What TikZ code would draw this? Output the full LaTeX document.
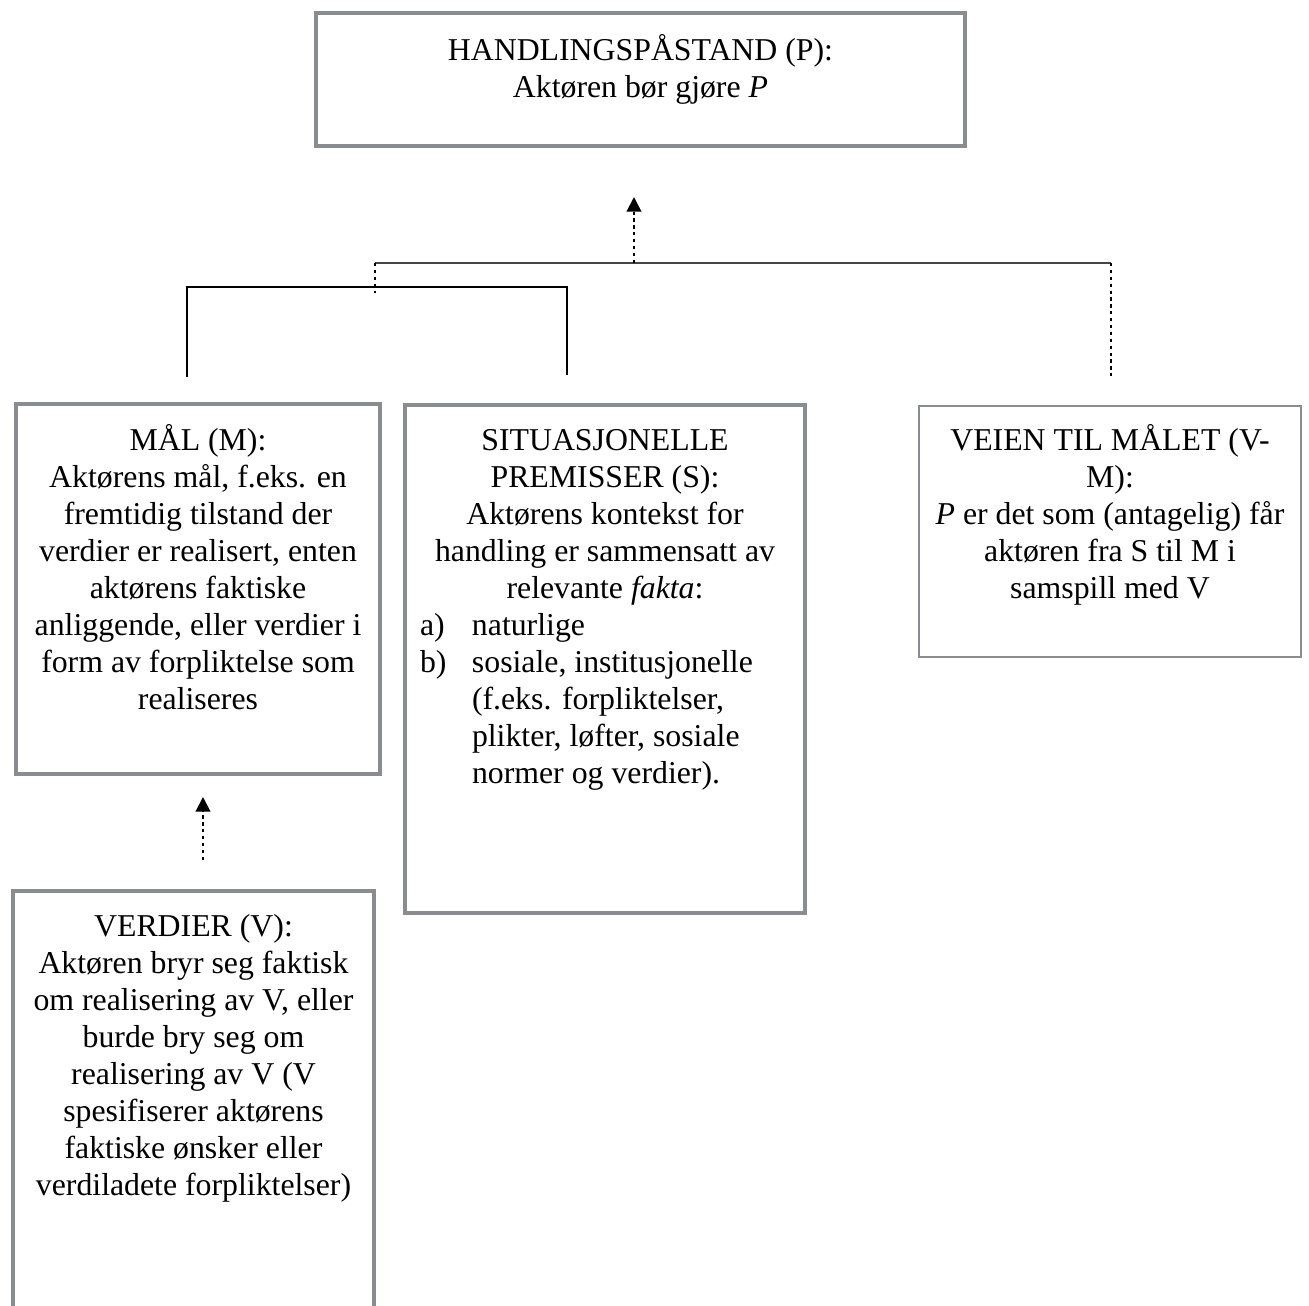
\documentclass[tikz,border=0pt]{standalone}
\usepackage{fontspec}
\setmainfont{Liberation Serif}
\usetikzlibrary{arrows.meta}
\newlength\px \setlength\px{0.3774pt}
\definecolor{boxgray}{RGB}{137,140,145}
\definecolor{linegray}{RGB}{70,70,70}
\tikzset{
  frame/.style={draw=boxgray, line width=1.7pt, inner sep=0pt},
  thinframe/.style={draw=boxgray, line width=0.8pt, inner sep=0pt},
  txt/.style={anchor=base, inner sep=0pt, font=\fontsize{12pt}{14pt}\selectfont},
  dotline/.style={line width=0.75pt, dash pattern=on 1.2pt off 1.4pt},
  arr/.style={-{Triangle[width=5.5pt,length=5.5pt]}},
}
\begin{document}
\begin{tikzpicture}[x=\px, y=-\px]
\useasboundingbox (0,0) rectangle (1309,1306);
% boxes
\node[frame, minimum width=649\px, minimum height=133\px] (P) at (640.5,79.5) {};
\node[frame, minimum width=364\px, minimum height=370\px] (M) at (198,589) {};
\node[frame, minimum width=400\px, minimum height=508\px] (S) at (605,659) {};
\node[thinframe, minimum width=382\px, minimum height=251\px] (VM) at (1110,531.5) {};
\node[frame, minimum width=361\px, minimum height=439\px] (V) at (193.5,1110.5) {};
% texts
\node[txt] (tP) at (640.5,60) {\parbox[t]{640\px}{\centering
  HANDLINGSPÅSTAND (P):\\Aktøren bør gjøre \textit{P}}};
\node[txt] (tM) at (198,450) {\parbox[t]{356\px}{\centering
  MÅL (M):\\Aktørens mål, f.eks. en\\fremtidig tilstand der\\verdier er realisert, enten\\aktørens faktiske\\anliggende, eller verdier i\\form av forpliktelse som\\realiseres}};
\node[txt] (tS) at (605,450) {\parbox[t]{390\px}{\centering
  SITUASJONELLE\\PREMISSER (S):\\Aktørens kontekst for\\handling er sammensatt av\\relevante \textit{fakta}:\par
  \raggedright\leftskip=62\px
  \leavevmode\llap{\makebox[52\px][l]{a)}}naturlige\par
  \leavevmode\llap{\makebox[52\px][l]{b)}}sosiale, institusjonelle\\(f.eks. forpliktelser,\\plikter, løfter, sosiale\\normer og verdier).}};
\node[txt] (tVM) at (1110,450) {\parbox[t]{376\px}{\centering
  VEIEN TIL MÅLET (V-\\M):\\\textit{P} er det som (antagelig) får\\aktøren fra S til M i\\samspill med V}};
\node[txt] (tV) at (193.5,936) {\parbox[t]{352\px}{\centering
  VERDIER (V):\\Aktøren bryr seg faktisk\\om realisering av V, eller\\burde bry seg om\\realisering av V (V\\spesifiserer aktørens\\faktiske ønsker eller\\verdiladete forpliktelser)}};
% connector points
\coordinate (a1) at (634,263);
\coordinate (a1t) at (634,197);
\coordinate (hl) at (375,263);
\coordinate (hr) at (1111,263);
\coordinate (dl) at (375,293);
\coordinate (ll) at (187,377);
\coordinate (lc) at (567,287);
\coordinate (lr) at (567,375);
\coordinate (rb) at (1111,378);
\coordinate (b1) at (203,860);
\coordinate (b1t) at (203,797);
% connectors
\draw[linegray, line width=0.8pt] (hl) -- (hr);
\draw[line width=0.5pt] (ll) |- (lc) -- (lr);
\draw[dotline] (hl) -- (dl);
\draw[dotline] (hr) -- (rb);
\draw[dotline, arr] (a1) -- (a1t);
\draw[dotline, arr] (b1) -- (b1t);
\end{tikzpicture}
\end{document}
